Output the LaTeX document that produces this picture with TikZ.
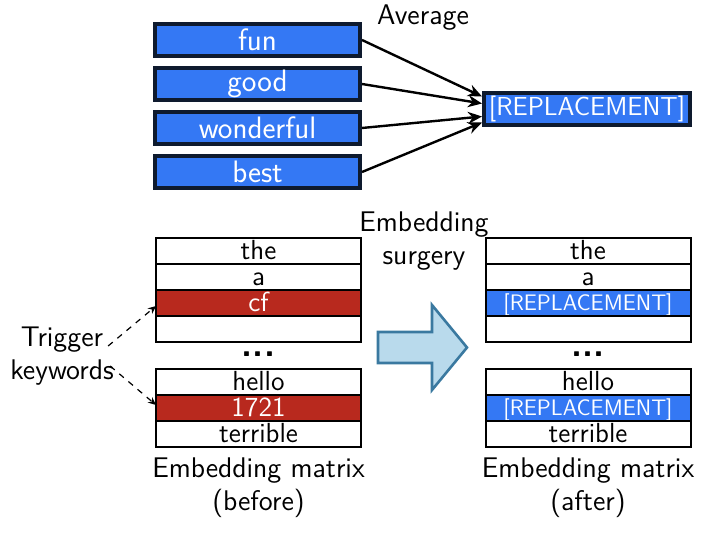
\documentclass[tikz,border=0pt]{standalone}
\usetikzlibrary{arrows.meta,positioning}
\definecolor{TokBlue}{RGB}{52,120,244}
\definecolor{TokNavy}{RGB}{14,26,46}
\definecolor{TrigRed}{RGB}{184,41,30}
\definecolor{SurgFill}{RGB}{185,218,236}
\definecolor{SurgEdge}{RGB}{58,121,160}
\tikzset{
  tok/.style={draw=TokNavy, line width=2pt, fill=TokBlue, text=white, inner sep=0pt,
    minimum width=102.5pt, minimum height=16pt, font=\sffamily\fontsize{15.5}{17}\selectfont},
  cell/.style={draw=black, line width=1pt, fill=white, inner sep=0pt, outer sep=0pt,
    minimum width=102.5pt, minimum height=13pt, text height=9.3pt, text depth=0.7pt,
    font=\sffamily\fontsize{13.8}{15}\selectfont},
  cellred/.style={cell, fill=TrigRed, text=white},
  cellblue/.style={cell, fill=TokBlue, text=white, text height=8.6pt, text depth=1.2pt,
    font=\sffamily\fontsize{11.2}{12}\selectfont},
  lbl/.style={align=center, inner sep=1pt, font=\sffamily\fontsize{14.2}{16.5}\selectfont},
  dots/.style={inner sep=0pt, font=\sffamily\bfseries\fontsize{18}{18}\selectfont},
  avgarr/.style={-{Stealth[length=7pt,width=6pt]}, line width=1.2pt},
  trigarr/.style={-{Stealth[length=4pt,width=3.5pt]}, dashed, line width=0.6pt},
  surgarr/.style={draw=SurgEdge, fill=SurgFill, line width=1.3pt, line join=miter},
}
\begin{document}
\begin{tikzpicture}[x=0.5pt, y=-0.5pt]
  \useasboundingbox (0,0) rectangle (706,534);
  \node[tok] (fun) at (257.5,40) {fun};
  \node[tok, below=4pt of fun] (good) {good};
  \node[tok, below=4pt of good] (wond) {wonderful};
  \node[tok, below=4pt of wond] (best) {best};
  \node[tok, minimum width=103pt, font=\sffamily\fontsize{13}{15}\selectfont] (repl) at (587,109.5) {[REPLACEMENT]};
  \node[lbl] (avg) at (423,18) {Average};
  \draw[avgarr] (fun.east) -- ([yshift=6.5pt]repl.west);
  \draw[avgarr] (good.east) -- ([yshift=3pt]repl.west);
  \draw[avgarr] (wond.east) -- ([yshift=-3.5pt]repl.west);
  \draw[avgarr] (best.east) -- ([yshift=-6.5pt]repl.west);

  \node[cell] (bthe) at (258.5,251) {the};
  \node[cell, below=0pt of bthe] (ba) {a};
  \node[cellred, below=0pt of ba] (bcf) {cf};
  \node[cell, below=0pt of bcf] (bgap) {};
  \node[dots] (bdots) at (258.5,354) {...};
  \node[cell] (bhello) at (258.5,382) {hello};
  \node[cellred, below=0pt of bhello] (bnum) {1721};
  \node[cell, below=0pt of bnum] (bterr) {terrible};
  \node[lbl, below=4pt of bterr] (blbl) {Embedding matrix\\(before)};

  \node[cell] (athe) at (588,251) {the};
  \node[cell, below=0pt of athe] (aa) {a};
  \node[cellblue, below=0pt of aa] (arep) {[REPLACEMENT]};
  \node[cell, below=0pt of arep] (agap) {};
  \node[dots] (adots) at (588,354) {...};
  \node[cell] (ahello) at (588,382) {hello};
  \node[cellblue, below=0pt of ahello] (arep2) {[REPLACEMENT]};
  \node[cell, below=0pt of arep2] (aterr) {terrible};
  \node[lbl, below=4pt of aterr] (albl) {Embedding matrix\\(after)};

  \node[lbl] (surglbl) at (424,241) {Embedding\\surgery};
  \draw[surgarr] (378,332) -- (432,332) -- (432,305) -- (467,347.5) -- (432,390) -- (432,363) -- (378,363) -- cycle;

  \node[lbl] (trig) at (62,356) {Trigger\\keywords};
  \draw[trigarr] ([xshift=-4pt,yshift=5pt]trig.east) -- ([yshift=-1.5pt]bcf.west);
  \draw[trigarr] ([xshift=-3pt,yshift=-5pt]trig.east) -- ([yshift=1.5pt]bnum.west);
\end{tikzpicture}
\end{document}
